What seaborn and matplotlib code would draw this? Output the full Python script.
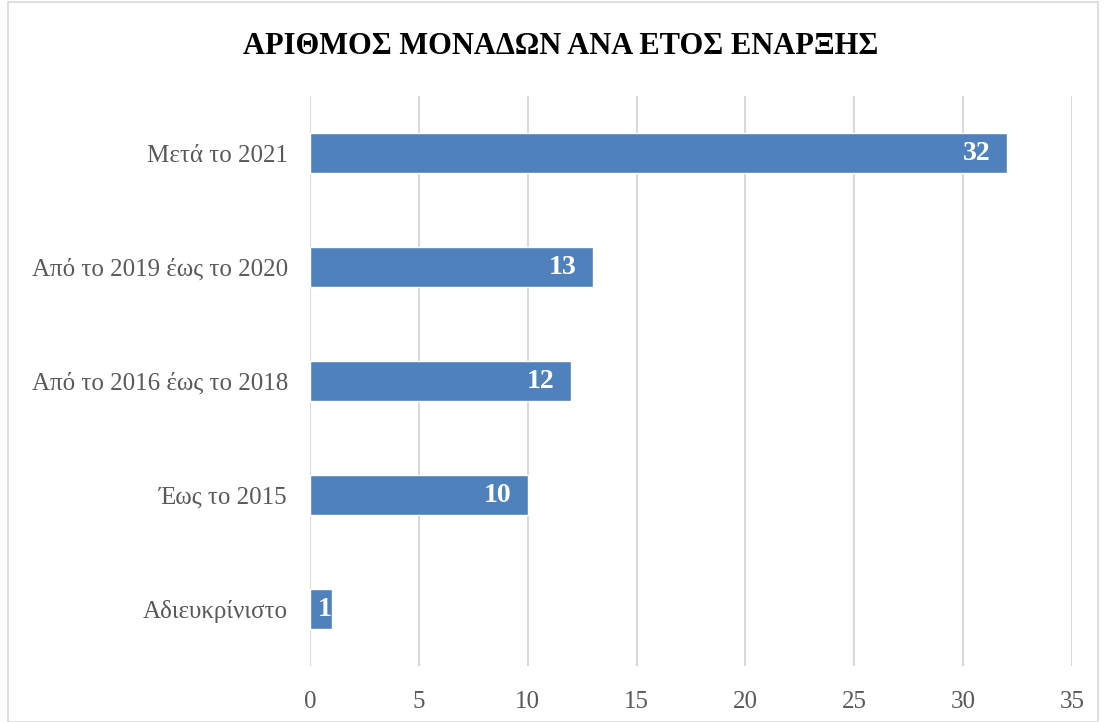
import matplotlib
matplotlib.use("Agg")
import matplotlib.pyplot as plt
import seaborn as sns
import pandas as pd
from matplotlib.patches import Rectangle

categories = ["Μετά το 2021", "Από το 2019 έως το 2020", "Από το 2016 έως το 2018", "Έως το 2015", "Αδιευκρίνιστο"]
values = [32, 13, 12, 10, 1]
xticks = [0, 5, 10, 15, 20, 25, 30, 35]
title = "ΑΡΙΘΜΟΣ ΜΟΝΑΔΩΝ ΑΝΑ ΕΤΟΣ ΕΝΑΡΞΗΣ"

df = pd.DataFrame({"cat": categories, "val": values})

sns.set_style("white")
plt.rcParams['font.family'] = ['Liberation Serif', 'DejaVu Serif']

fig = plt.figure(figsize=(11.06, 7.22), dpi=100)
ax = fig.add_axes([310/1106, 1-666/722, 762/1106, 570/722])

sns.barplot(data=df, x="val", y="cat", order=categories, color="#4F81BD",
            saturation=1, width=0.35, ax=ax, zorder=3)

ax.set_xlim(0, 35)
ax.set_xticks(xticks)
ax.set_xticklabels([str(t) for t in xticks], fontsize=18, color="#595959")
ax.tick_params(axis='y', labelsize=18, labelcolor="#595959", length=0, pad=16)
ax.tick_params(axis='x', length=0, pad=18)
ax.set_xlabel("")
ax.set_ylabel("")
ax.grid(axis='x', color="#D9D9D9", linewidth=1.5, zorder=0)
ax.set_axisbelow(True)
for s in ax.spines.values():
    s.set_visible(False)

for i, v in enumerate(values):
    off = 0.75 if v >= 2 else 0.0
    ax.text(v - off, i, str(v), ha='right', va='center', color='white',
            fontsize=20, fontweight='bold', zorder=5, clip_on=True)

fig.text(561/1106, 1-47/722, title, ha='center', va='center', fontsize=22,
         fontweight='bold', color='black')

fig.patches.append(Rectangle((8/1106, 0.0), 1-16/1106, 1-2/722, transform=fig.transFigure,
                             fill=False, edgecolor="#D9D9D9", linewidth=1.2))

fig.savefig("out.png", dpi=100)
